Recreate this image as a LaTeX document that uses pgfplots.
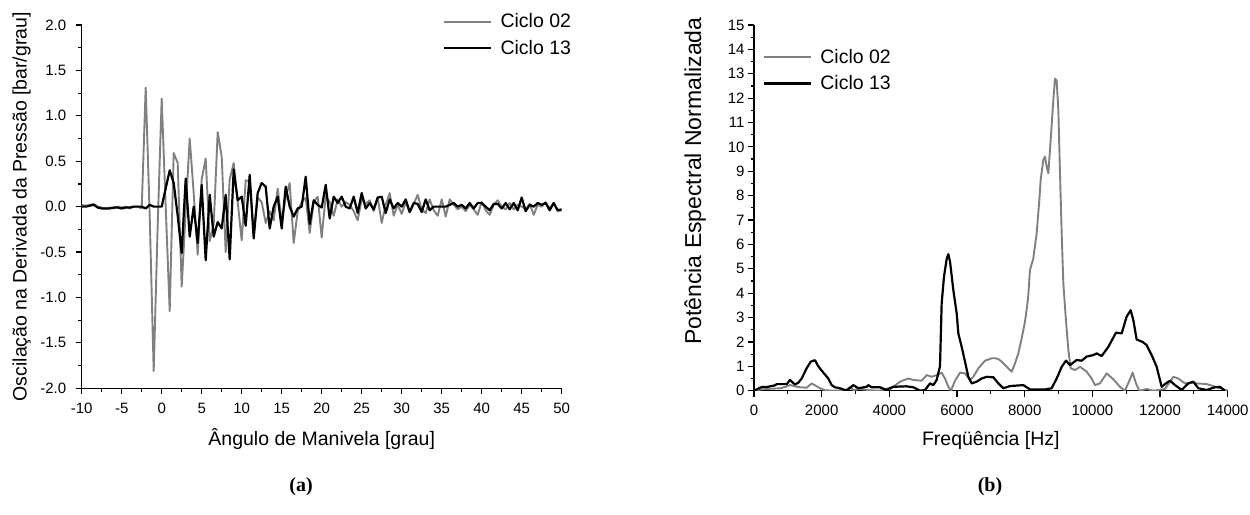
\documentclass[border=0pt]{standalone}
\usepackage{fontspec}
\setmainfont{Liberation Sans}
\newfontfamily\capfont{Liberation Serif}
\usepackage{pgfplots}
\usepackage{pgfplotstable}
\pgfplotsset{compat=1.18}
\definecolor{cgray}{RGB}{128,128,128}

\pgfplotstableread{
x y
-10 0.02
-9.5 0.01
-9 0.02
-8.5 0.03
-8 0.0
-7.5 -0.01
-7 -0.02
-6.5 -0.01
-6 -0.02
-5.5 0.0
-5 -0.01
-4.5 0.0
-4 -0.02
-3.5 0.0
-3 0.0
-2.5 -0.02
-2 1.31
-1.5 -0.1
-1 -1.81
-0.5 -0.2
0 1.19
0.5 0.0
1 -1.15
1.5 0.59
2 0.48
2.5 -0.88
3 -0.05
3.5 0.75
4 0.15
4.5 -0.53
5 0.3
5.5 0.53
6 -0.38
6.5 -0.2
7 0.82
7.5 0.55
8 -0.5
8.5 0.3
9 0.48
9.5 0.05
10 -0.37
10.5 0.29
11 0.28
11.5 -0.3
12 0.1
12.5 0.05
13 -0.18
13.5 -0.05
14 -0.15
14.5 0.2
15 -0.17
15.5 0.1
16 0.26
16.5 -0.4
17 -0.05
17.5 0.05
18 0.1
18.5 -0.29
19 0.05
19.5 0.11
20 -0.34
20.5 0.12
21 0.05
21.5 -0.1
22 0.08
22.5 0.0
23 0.05
23.5 0.02
24 -0.05
24.5 -0.15
25 0.08
25.5 0.03
26 0.07
26.5 -0.05
27 0.1
27.5 -0.18
28 0.02
28.5 0.15
29 -0.1
29.5 0.02
30 -0.08
30.5 0.05
31 -0.06
31.5 0.03
32 0.13
32.5 -0.03
33 -0.07
33.5 0.08
34 -0.04
34.5 -0.1
35 0.08
35.5 -0.11
36 0.08
36.5 0.02
37 -0.03
37.5 0.0
38 -0.05
38.5 0.02
39 -0.03
39.5 -0.09
40 0.05
40.5 -0.04
41 -0.09
41.5 0.02
42 0.07
42.5 0.0
43 -0.03
43.5 0.04
44 -0.03
44.5 0.02
45 0.0
45.5 -0.03
46 0.03
46.5 -0.09
47 0.02
47.5 0.0
48 0.05
48.5 -0.02
49 0.04
49.5 -0.05
50 -0.04
}\oscA

\pgfplotstableread{
x y
-10 0.0
-9.5 0.0
-9 0.01
-8.5 0.02
-8 -0.01
-7.5 -0.02
-7 -0.02
-6.5 -0.02
-6 -0.01
-5.5 -0.01
-5 -0.02
-4.5 -0.01
-4 -0.01
-3.5 0.0
-3 0.0
-2.5 0.0
-2 -0.02
-1.5 0.02
-1 0.0
-0.5 0.0
0 0.0
0.5 0.2
1 0.4
1.5 0.26
2 -0.1
2.5 -0.51
3 0.31
3.5 -0.33
4 0.0
4.5 -0.4
5 0.24
5.5 -0.59
6 0.13
6.5 -0.33
7 -0.17
7.5 -0.24
8 0.13
8.5 -0.58
9 0.41
9.5 0.07
10 0.11
10.5 -0.21
11 0.35
11.5 -0.35
12 0.15
12.5 0.26
13 0.22
13.5 -0.24
14 0.0
14.5 0.11
15 -0.24
15.5 0.22
16 0.0
16.5 -0.11
17 -0.02
17.5 0.0
18 0.33
18.5 -0.19
19 0.07
19.5 0.02
20 -0.01
20.5 0.24
21 -0.13
21.5 0.11
22 0.04
22.5 0.11
23 0.0
23.5 -0.02
24 0.11
24.5 -0.07
25 0.15
25.5 -0.02
26 0.04
26.5 -0.03
27 0.1
27.5 0.11
28 -0.07
28.5 0.08
29 -0.02
29.5 0.04
30 0.0
30.5 0.08
31 -0.06
31.5 0.04
32 0.03
32.5 -0.06
33 0.08
33.5 -0.04
34 0.0
34.5 0.0
35 0.0
35.5 0.0
36 0.02
36.5 0.04
37 0.0
37.5 0.02
38 -0.02
38.5 0.04
39 -0.02
39.5 0.04
40 0.04
40.5 0.0
41 -0.04
41.5 0.03
42 0.03
42.5 -0.02
43 0.04
43.5 -0.03
44 0.04
44.5 -0.04
45 0.1
45.5 -0.05
46 0.02
46.5 0.0
47 0.04
47.5 0.02
48 0.04
48.5 -0.04
49 0.04
49.5 -0.04
50 -0.03
}\oscB

\pgfplotstableread{
x y
0 0
200 0.05
500 0.08
800 0.1
1064 0.23
1300 0.15
1556 0.12
1704 0.3
1950 0.1
2100 0.02
2300 0.0
2700 0.02
2837 0.15
2950 0.02
3100 0.08
3400 0.02
3724 0.0
4118 0.16
4315 0.37
4561 0.5
4709 0.44
4955 0.41
5103 0.64
5251 0.57
5398 0.64
5546 0.74
5645 0.5
5743 0.16
5822 0.0
5941 0.41
6088 0.74
6236 0.71
6383 0.44
6482 0.57
6630 0.92
6827 1.23
7024 1.33
7122 1.33
7221 1.30
7319 1.19
7516 0.92
7615 0.78
7713 1.12
7812 1.53
7911 2.15
8009 2.83
8100 3.8
8157 4.95
8255 5.43
8354 6.46
8433 7.82
8472 8.65
8551 9.47
8600 9.6
8650 9.19
8699 8.92
8768 10.29
8847 11.93
8896 12.8
8945 12.72
8994 11.52
9043 8.92
9093 6.46
9142 4.4
9211 3.04
9290 1.67
9359 0.92
9487 0.85
9635 0.98
9831 0.78
9979 0.5
10077 0.23
10225 0.3
10422 0.71
10619 0.47
10816 0.16
10964 0.0
11092 0.41
11191 0.74
11289 0.3
11388 0.0
11604 0.07
11801 0.0
12146 0.07
12392 0.57
12540 0.5
12737 0.3
12934 0.33
13082 0.3
13378 0.27
13575 0.19
13772 0.1
14000 0.0
}\specA

\pgfplotstableread{
x y
0 0.0
227 0.15
374 0.15
621 0.22
670 0.27
965 0.27
1064 0.44
1212 0.25
1310 0.33
1409 0.5
1556 0.92
1675 1.19
1803 1.25
1901 1.0
2049 0.74
2197 0.5
2295 0.23
2394 0.14
2542 0.1
2739 0.0
2936 0.23
3083 0.1
3330 0.16
3379 0.23
3477 0.14
3724 0.14
3921 0.03
4118 0.16
4500 0.18
4709 0.14
4906 0.0
5054 0.03
5201 0.3
5300 0.23
5398 0.44
5497 1.0
5546 3.58
5615 4.68
5694 5.4
5743 5.6
5793 5.3
5891 4.13
5990 3.17
6039 2.35
6137 1.8
6236 1.19
6334 0.57
6433 0.3
6581 0.37
6728 0.5
6876 0.57
7073 0.55
7221 0.3
7369 0.1
7566 0.19
7960 0.23
8157 0.05
8600 0.05
8797 0.1
8945 0.5
9093 0.98
9221 1.23
9339 1.05
9536 1.26
9684 1.23
9831 1.4
10028 1.46
10127 1.53
10275 1.42
10472 1.8
10698 2.38
10866 2.35
11013 3.04
11132 3.3
11210 2.9
11309 2.1
11485 2.0
11604 1.87
11752 1.46
11900 0.98
12048 0.16
12146 0.27
12294 0.41
12442 0.23
12639 0.03
12836 0.3
12984 0.37
13131 0.1
13378 0.03
13624 0.14
13772 0.16
13919 0.0
}\specB

\pgfplotsset{
  mystyle/.style={
    scale only axis,
    axis x line*=bottom, axis y line*=left,
    axis line style={line width=1.3pt,-},
    tick align=outside,
    major tick length=6pt, minor tick length=3.5pt,
    tick style={line width=1.2pt, black},
    tick label style={font=\fontsize{15}{17}\selectfont},
    xticklabel style={yshift=-5pt},
    label style={font=\fontsize{19.5}{22}\selectfont},
    /pgf/number format/assume math mode=true,
    legend style={draw=none, fill=none, font=\fontsize{19.5}{22}\selectfont, anchor=north west, row sep=7pt, inner sep=0pt},
    legend cell align=left,
    legend image code/.code={\draw[##1] (0pt,0pt) -- (47pt,0pt); \path (53pt,0pt);},
    line join=round,
  },
  gser/.style={cgray, line width=1.9pt},
  bser/.style={black, line width=2.2pt},
}

\begin{document}
\begin{tikzpicture}
\useasboundingbox (0,0) rectangle (1250pt,514pt);

\begin{axis}[mystyle,
  at={(81.7pt,125.7pt)}, anchor=south west,
  width=480pt, height=363.3pt,
  xmin=-10, xmax=50, ymin=-2, ymax=2,
  xtick={-10,-5,...,50}, ytick={-2,-1.5,...,2},
  minor x tick num=1, minor y tick num=1,
  yticklabel style={xshift=-6pt, /pgf/number format/.cd, fixed, fixed zerofill, precision=1},
  xlabel={Ângulo de Manivela [grau]},
  ylabel={Oscilação na Derivada da Pressão [bar/grau]},
  xlabel style={at={(axis description cs:0.5,-0.14)}, anchor=center},
  ylabel style={at={(axis description cs:-0.125,0.5)}, anchor=center},
  legend style={at={(axis description cs:0.753,1.037)}},
]
\addplot[gser] table {\oscA};
\addplot[bser] table {\oscB};
\legend{Ciclo 02, Ciclo 13}
\end{axis}

\begin{axis}[mystyle,
  at={(754pt,123.3pt)}, anchor=south west,
  width=473.7pt, height=365.7pt,
  xmin=0, xmax=14000, ymin=0, ymax=15,
  xtick={0,2000,...,14000}, ytick={0,1,...,15},
  minor x tick num=1, minor y tick num=1,
  scaled x ticks=false,
  xticklabel style={/pgf/number format/1000 sep={}},
  xlabel={Freqüência [Hz]},
  ylabel={Potência Espectral Normalizada},
  xlabel style={at={(axis description cs:0.5,-0.135)}, anchor=center},
  ylabel style={at={(axis description cs:-0.1245,0.573)}, anchor=center, font=\fontsize{23}{26}\selectfont},
  legend style={at={(axis description cs:0.019,0.94)}},
]
\addplot[gser] table {\specA};
\addplot[bser] table {\specB};
\legend{Ciclo 02, Ciclo 13}
\end{axis}

\node[font=\capfont\bfseries\fontsize{20}{22}\selectfont] at (301pt,27pt) {(a)};
\node[font=\capfont\bfseries\fontsize{20}{22}\selectfont] at (990pt,27pt) {(b)};
\end{tikzpicture}
\end{document}
